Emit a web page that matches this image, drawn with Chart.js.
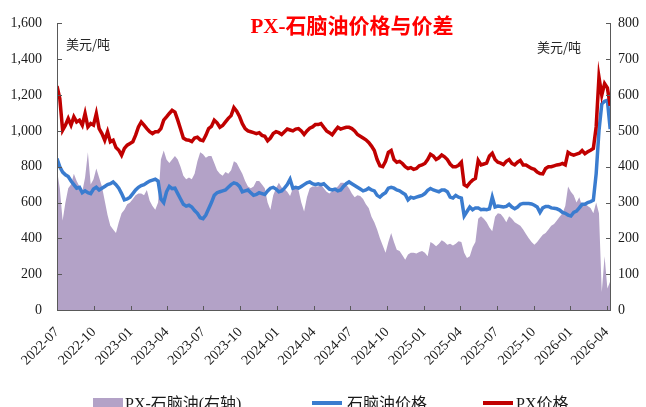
<!DOCTYPE html>
<html lang="zh-CN">
<head>
<meta charset="UTF-8">
<title>PX-石脑油价格与价差</title>
<style>
  html, body { margin: 0; padding: 0; background: #fff; }
</style>
</head>
<body>
<canvas id="chart" width="646" height="407"></canvas>
<script src="https://cdn.jsdelivr.net/npm/chart.js"></script>
<script>
// weekly samples, first one on 2022-07-01
const startDate = '2022-07-01';
const tickLabels = ['2022-07', '2022-10', '2023-01', '2023-04', '2023-07', '2023-10', '2024-01', '2024-04',
                    '2024-07', '2024-10', '2025-01', '2025-04', '2025-07', '2025-10', '2026-01', '2026-04'];

// PX价格 (美元/吨, 左轴)
const pxPrice = [
  1250, 1180, 1004, 1032, 1069, 1032, 1078, 1050, 1060, 1032, 1097, 1022, 1041, 1032, 1097, 1013, 985, 948, 995, 939,
  948, 907, 892, 864, 902, 920, 930, 939, 976, 1022, 1050, 1032, 1013, 995, 985, 995, 995, 1013, 1060, 1078,
  1097, 1115, 1105, 1060, 1010, 960, 950, 948, 940, 960, 965, 950, 945, 975, 1013, 1025, 1060, 1045, 1020, 1030,
  1050, 1070, 1085, 1130, 1110, 1080, 1040, 1013, 1000, 995, 990, 985, 990, 975, 970, 945, 960, 985, 995, 990,
  980, 995, 1010, 1005, 1000, 1010, 1013, 1000, 980, 1000, 1015, 1022, 1035, 1035, 1041, 1020, 1000, 990, 978, 1000,
  1020, 1010, 1015, 1020, 1020, 1013, 1000, 980, 970, 960, 950, 935, 915, 890, 840, 805, 800, 830, 880, 890,
  840, 825, 830, 818, 800, 790, 795, 785, 790, 805, 810, 818, 840, 870, 860, 840, 850, 865, 855, 840,
  815, 800, 800, 808, 825, 700, 690, 710, 725, 735, 835, 810, 815, 820, 860, 875, 840, 825, 820, 812,
  830, 840, 818, 810, 825, 835, 810, 810, 800, 790, 785, 770, 762, 760, 790, 800, 800, 805, 810, 812,
  818, 810, 880, 870, 865, 870, 875, 890, 873, 883, 892, 902, 1022, 1300, 1200, 1264, 1240, 1140
];

// 石脑油价格 (美元/吨, 左轴)
const naphthaPrice = [
  846, 800, 770, 755, 745, 720, 700, 680, 685, 655, 665, 655, 650, 675, 685, 670, 680, 690, 700, 705,
  715, 700, 680, 650, 615, 620, 630, 650, 670, 685, 695, 700, 710, 720, 725, 730, 720, 620, 600, 660,
  690, 678, 680, 650, 620, 590, 580, 585, 575, 555, 540, 515, 510, 530, 565, 600, 640, 655, 660, 665,
  670, 685, 700, 710, 705, 690, 660, 665, 670, 655, 640, 645, 655, 650, 645, 665, 680, 685, 675, 660,
  665, 680, 700, 730, 680, 685, 680, 690, 700, 710, 715, 705, 700, 705, 700, 705, 690, 675, 670, 675,
  665, 670, 690, 705, 715, 705, 695, 685, 675, 665, 670, 680, 670, 665, 640, 630, 645, 655, 680, 685,
  680, 670, 665, 655, 645, 615, 630, 625, 630, 635, 640, 650, 668, 678, 670, 665, 660, 670, 670, 660,
  630, 625, 640, 630, 625, 525, 550, 575, 560, 570, 570, 560, 562, 560, 565, 630, 575, 580, 578, 575,
  578, 590, 575, 565, 575, 590, 595, 595, 595, 592, 585, 575, 545, 570, 578, 578, 570, 568, 565, 558,
  545, 540, 530, 525, 545, 552, 570, 590, 590, 600, 605, 613, 760, 1000, 1150, 1165, 1170, 1010
];

// PX-石脑油 价差 (美元/吨, 右轴)
const spread = [
  390, 340, 250, 300, 340, 350, 380, 360, 345, 330, 370, 440, 350, 365, 395, 370, 345, 305, 265, 235,
  225, 215, 245, 270, 280, 295, 300, 310, 320, 325, 325, 320, 335, 305, 290, 280, 300, 420, 445, 420,
  410, 420, 430, 420, 400, 375, 365, 370, 365, 380, 415, 440, 435, 425, 430, 430, 410, 390, 380, 375,
  385, 380, 390, 415, 410, 395, 380, 360, 345, 340, 345, 360, 360, 350, 340, 300, 280, 320, 340, 355,
  342, 338, 330, 318, 340, 342, 335, 300, 275, 315, 340, 345, 345, 345, 350, 340, 330, 325, 332, 340,
  345, 355, 355, 350, 340, 325, 315, 320, 318, 310, 295, 285, 260, 245, 225, 200, 180, 160, 190, 215,
  190, 168, 165, 153, 140, 155, 160, 160, 158, 162, 165, 160, 150, 190, 185, 178, 185, 195, 190, 182,
  185, 180, 185, 192, 190, 160, 145, 150, 175, 190, 255, 262, 255, 245, 230, 220, 260, 270, 268, 258,
  245, 262, 255, 245, 240, 235, 225, 212, 200, 190, 182, 190, 200, 210, 215, 225, 235, 240, 250, 260,
  270, 290, 345, 330, 320, 300, 315, 290, 300, 290, 285, 270, 300, 270, 50, 150, 60, 80
];

const DAY = 86400000;
const t0 = Date.parse(startDate);
const tickDays = tickLabels.map(m => (Date.parse(m + '-01') - t0) / DAY);
const toPoints = arr => arr.map((v, i) => ({ x: i * 7, y: v }));

const serif = '"Liberation Serif", "Times New Roman", "Noto Sans CJK SC", serif';
const axisColor = '#595959';

const decor = {
  id: 'decor',
  afterDraw(chart) {
    const ctx = chart.ctx;
    const a = chart.chartArea;
    const { x, y, y1 } = chart.scales;
    ctx.save();
    ctx.strokeStyle = axisColor;
    ctx.lineWidth = 1;
    ctx.beginPath();
    ctx.moveTo(a.left + 0.5, a.top);
    ctx.lineTo(a.left + 0.5, a.bottom + 0.5);
    ctx.lineTo(a.right - 0.5, a.bottom + 0.5);
    ctx.lineTo(a.right - 0.5, a.top);
    y.ticks.forEach(t => {
      const py = Math.round(y.getPixelForValue(t.value)) + 0.5;
      ctx.moveTo(a.left, py); ctx.lineTo(a.left + 5, py);
    });
    y1.ticks.forEach(t => {
      const py = Math.round(y1.getPixelForValue(t.value)) + 0.5;
      ctx.moveTo(a.right - 5, py); ctx.lineTo(a.right, py);
    });
    x.ticks.forEach(t => {
      const px = Math.round(x.getPixelForValue(t.value)) + 0.5;
      ctx.moveTo(px, a.bottom); ctx.lineTo(px, a.bottom - 4);
    });
    ctx.stroke();

    // title
    ctx.fillStyle = '#FF0000';
    ctx.font = 'bold 21px ' + serif;
    ctx.textAlign = 'center';
    ctx.textBaseline = 'middle';
    ctx.fillText('PX-石脑油价格与价差', 352, 28);

    // units
    ctx.fillStyle = '#262626';
    ctx.font = '13px "Noto Sans CJK SC", sans-serif';
    ctx.textAlign = 'left';
    ctx.fillText('美元/吨', 66, 44);
    ctx.fillText('美元/吨', 537, 47);

    // legend
    const ds = chart.data.datasets;
    ctx.font = '16px ' + serif;
    ctx.fillStyle = ds[0].backgroundColor;
    ctx.fillRect(93, 398, 30, 12);
    ctx.lineWidth = 4;
    ctx.strokeStyle = ds[1].borderColor;
    ctx.beginPath(); ctx.moveTo(312, 403); ctx.lineTo(342, 403); ctx.stroke();
    ctx.strokeStyle = ds[2].borderColor;
    ctx.beginPath(); ctx.moveTo(483, 403); ctx.lineTo(513, 403); ctx.stroke();
    ctx.fillStyle = '#1a1a1a';
    ctx.fillText(ds[0].label, 125, 405);
    ctx.fillText(ds[1].label, 347, 405);
    ctx.fillText(ds[2].label, 516, 405);
    ctx.restore();
  }
};

new Chart(document.getElementById('chart'), {
  type: 'line',
  data: {
    datasets: [
      {
        label: 'PX-石脑油(右轴)',
        data: toPoints(spread),
        yAxisID: 'y1',
        fill: 'origin',
        backgroundColor: '#B3A2C7',
        borderWidth: 0,
        pointRadius: 0,
        order: 3
      },
      {
        label: '石脑油价格',
        data: toPoints(naphthaPrice),
        yAxisID: 'y',
        borderColor: '#3A7CCF',
        borderWidth: 3.5,
        pointRadius: 0,
        fill: false,
        order: 2
      },
      {
        label: 'PX价格',
        data: toPoints(pxPrice),
        yAxisID: 'y',
        borderColor: '#C00000',
        borderWidth: 3.5,
        pointRadius: 0,
        fill: false,
        order: 1
      }
    ]
  },
  options: {
    responsive: false,
    devicePixelRatio: 1,
    animation: false,
    layout: { padding: { top: 23, left: 0, right: 0, bottom: 0 } },
    plugins: {
      legend: { display: false },
      tooltip: { enabled: false }
    },
    scales: {
      x: {
        type: 'linear',
        min: 0,
        max: 1381,
        afterBuildTicks: s => { s.ticks = tickDays.map(v => ({ value: v })); },
        afterFit: s => { s.height = 97; },
        grid: { display: false, drawTicks: false },
        border: { display: false },
        ticks: {
          autoSkip: false,
          minRotation: 45,
          maxRotation: 45,
          padding: 14,
          color: '#1a1a1a',
          font: { family: serif, size: 14 },
          callback: (v, i) => tickLabels[i]
        }
      },
      y: {
        position: 'left',
        min: 0,
        max: 1600,
        afterFit: s => { s.width = 57; },
        grid: { display: false, drawTicks: false },
        border: { display: false },
        ticks: {
          stepSize: 200,
          padding: 15,
          color: '#1a1a1a',
          font: { family: serif, size: 14 },
          callback: v => v.toLocaleString('en-US')
        }
      },
      y1: {
        position: 'right',
        min: 0,
        max: 800,
        afterFit: s => { s.width = 35; },
        grid: { display: false, drawTicks: false },
        border: { display: false },
        ticks: {
          stepSize: 100,
          padding: 7,
          color: '#1a1a1a',
          font: { family: serif, size: 14 }
        }
      }
    }
  },
  plugins: [decor]
});
</script>
</body>
</html>
